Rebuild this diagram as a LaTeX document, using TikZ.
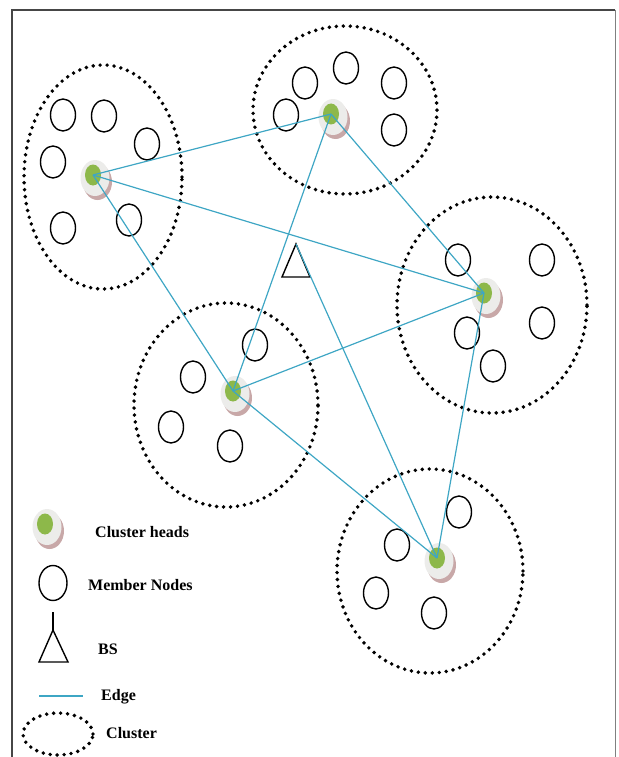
\documentclass[tikz,border=0pt]{standalone}
\usepackage{fontspec}
\setmainfont{Liberation Serif}
\usetikzlibrary{positioning,calc,shapes.geometric,shadows}
\definecolor{edgeblue}{RGB}{62,166,196}
\definecolor{chgreen}{RGB}{141,184,74}
\definecolor{chring}{RGB}{236,236,234}
\definecolor{chshade}{RGB}{200,168,168}
\definecolor{framegray}{RGB}{70,70,70}
\tikzstyle{member} = [draw, ellipse, line width=1.4pt, minimum width=25pt, minimum height=32pt, inner sep=0pt]
\tikzstyle{cluster} = [draw, ellipse, line width=3.9pt, line cap=round, dash pattern=on 0pt off 7pt, inner sep=0pt]
\tikzstyle{edge} = [draw=edgeblue, line width=1.2pt]
\tikzstyle{legend} = [anchor=west, font=\fontsize{16}{18}\selectfont\bfseries, inner sep=0pt]
\tikzset{ring/.style={ellipse, fill=chring, minimum width=29pt, minimum height=36pt, inner sep=0pt,
        drop shadow={shadow xshift=2.5pt, shadow yshift=-4pt, fill=chshade, opacity=1}},
    head/.style={ellipse, fill=chgreen, minimum width=16pt, minimum height=21pt, inner sep=0pt}
}

\begin{document}
\begin{tikzpicture}[x=1pt, y=-1pt]
        \useasboundingbox (0,0) rectangle (618,757);
        % frame
        \draw [framegray, line width=2pt] (12,757) -- (12,10) -- (615,10);
        \draw [gray, line width=1pt] (615,10) -- (615,757);

        % clusters
        \node [cluster, minimum width=158pt, minimum height=224pt] (c1) at (103,177) {};
        \node [cluster, minimum width=184pt, minimum height=168pt] (c2) at (345,110) {};
        \node [cluster, minimum width=190pt, minimum height=216pt] (c3) at (492,305) {};
        \node [cluster, minimum width=184pt, minimum height=204pt] (c4) at (226,405) {};
        \node [cluster, minimum width=186pt, minimum height=204pt] (c5) at (430,571) {};

        % member nodes
        \node [member] (m11) at (63,115) {};
        \node [member] (m12) at (104,116) {};
        \node [member] (m13) at (147,144) {};
        \node [member] (m14) at (53,162) {};
        \node [member] (m15) at (63,228) {};
        \node [member] (m16) at (129,220) {};

        \node [member] (m21) at (305,83) {};
        \node [member] (m22) at (346,68) {};
        \node [member] (m23) at (394,83) {};
        \node [member] (m24) at (286,115) {};
        \node [member] (m25) at (394,130) {};

        \node [member] (m31) at (458,260) {};
        \node [member] (m32) at (542,260) {};
        \node [member] (m33) at (542,323) {};
        \node [member] (m34) at (467,333) {};
        \node [member] (m35) at (493,366) {};

        \node [member] (m41) at (255,345) {};
        \node [member] (m42) at (193,377) {};
        \node [member] (m43) at (171,427) {};
        \node [member] (m44) at (230,446) {};

        \node [member] (m51) at (459,512) {};
        \node [member] (m52) at (397,545) {};
        \node [member] (m53) at (376,593) {};
        \node [member] (m54) at (434,613) {};

        % cluster heads
        \node [ring] (r1) at (95,178) {};
        \node [head] (ch1) at ($(r1)+(-2,-3)$) {};
        \node [ring] (r2) at (333,117) {};
        \node [head] (ch2) at ($(r2)+(-2,-3)$) {};
        \node [ring] (r3) at (486,296) {};
        \node [head] (ch3) at ($(r3)+(-2,-3)$) {};
        \node [ring] (r4) at (235,394) {};
        \node [head] (ch4) at ($(r4)+(-2,-3)$) {};
        \node [ring] (r5) at (439,561) {};
        \node [head] (ch5) at ($(r5)+(-2,-3)$) {};

        % base station
        \coordinate (bs) at (296,244);
        \draw [line width=1.4pt] (bs) -- ++(-14,33) -- ++(28,0) -- cycle;

        % edges
        \draw [edge] (ch1.center) -- (ch2.center);
        \draw [edge] (ch1.center) -- (ch3.center);
        \draw [edge] (ch1.center) -- (ch4.center);
        \draw [edge] (ch2.center) -- (ch3.center);
        \draw [edge] (ch2.center) -- (ch4.center);
        \draw [edge] (ch4.center) -- (ch3.center);
        \draw [edge] (ch3.center) -- (ch5.center);
        \draw [edge] (ch4.center) -- (ch5.center);
        \draw [edge] (bs) -- (ch5.center);

        % legend
        \node [ring] (lgr) at (47,527) {};
        \node [head] (lgch) at ($(lgr)+(-2,-3)$) {};
        \node [legend] (lgcht) at (95,532) {Cluster heads};
        \node [member, minimum width=28pt, minimum height=35pt] (lgm) at (53,583) {};
        \node [legend] (lgmt) at (88,585) {Member Nodes};
        \coordinate (lgbs) at (53,630);
        \draw [line width=1.4pt] (53,612) -- (lgbs);
        \draw [line width=1.4pt] (lgbs) -- ++(-14,32) -- ++(29,0) -- cycle;
        \node [legend] (lgbst) at (98,649) {BS};
        \coordinate (lge1) at (39,696);
        \coordinate (lge2) at (83,696);
        \draw [edge] (lge1) -- (lge2);
        \node [legend] (lget) at (101,697) {Edge};
        \node [cluster, minimum width=70pt, minimum height=42pt] (lgc) at (58,734) {};
        \node [legend] (lgct) at (106,733) {Cluster};
    \end{tikzpicture}
\end{document}
